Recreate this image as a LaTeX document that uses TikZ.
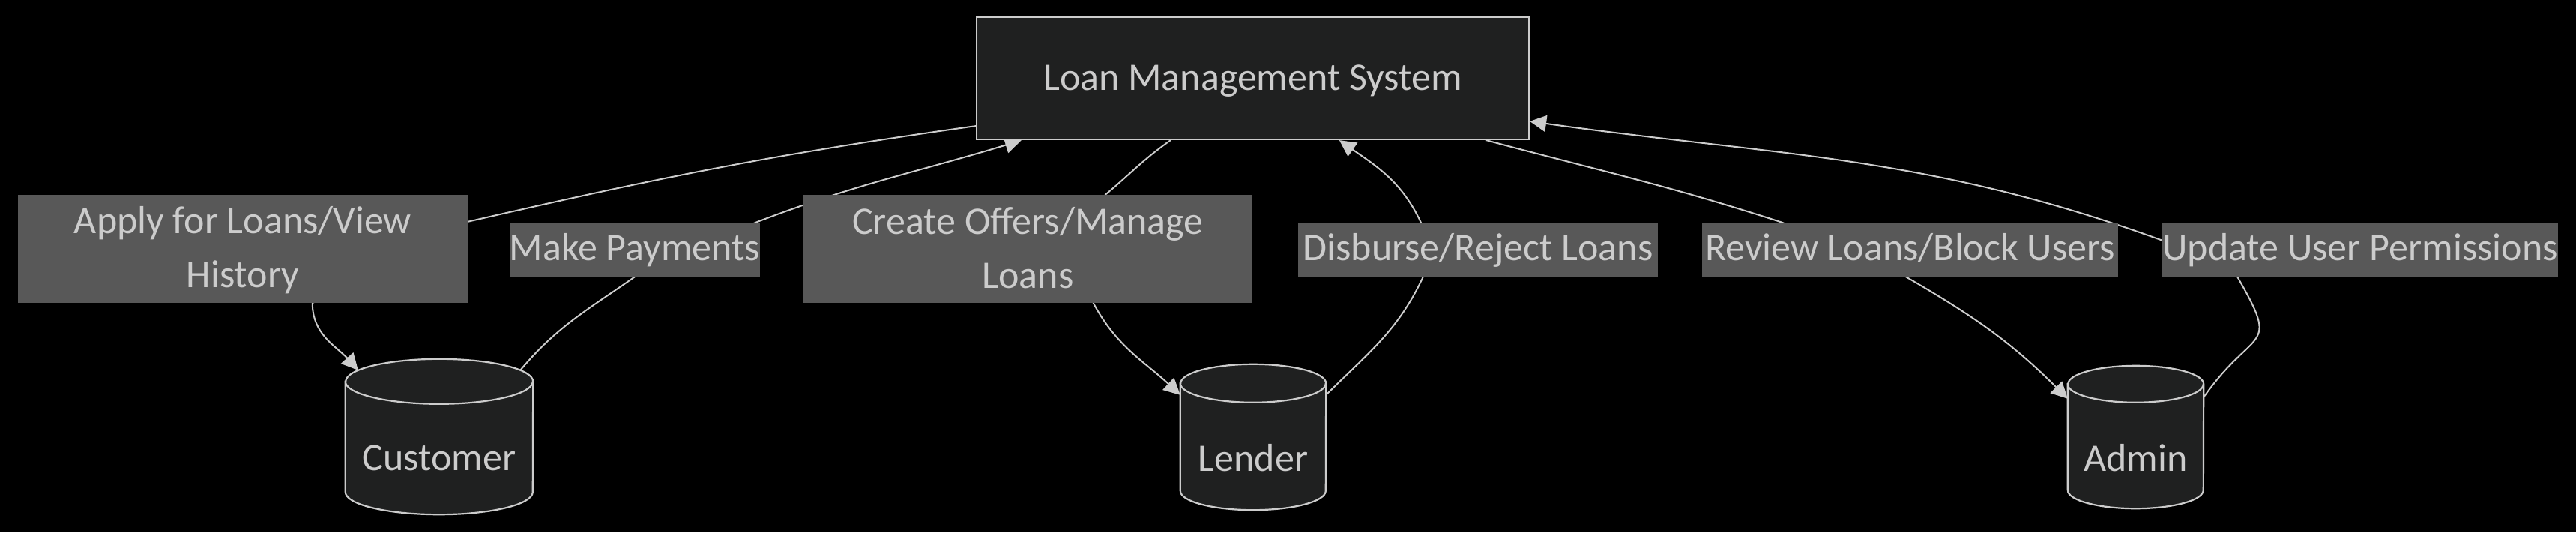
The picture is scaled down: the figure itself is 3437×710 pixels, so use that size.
\documentclass[tikz,border=0pt]{standalone}
\usepackage{fontspec}
\setmainfont{Carlito}
\usetikzlibrary{arrows.meta,calc}
\pgfdeclarelayer{bglayer}
\pgfdeclarelayer{edgelayer}
\pgfdeclarelayer{shapelayer}
\pgfsetlayers{bglayer,edgelayer,shapelayer,main}
\definecolor{nodefill}{HTML}{1F2020}
\definecolor{linegray}{HTML}{CCCCCC}
\definecolor{labelfill}{HTML}{585858}
\definecolor{textgray}{HTML}{CCCCCC}
\tikzset{
  bigfont/.style={font=\fontsize{52}{72}\selectfont},
  sysbox/.style={draw=linegray, line width=2.2pt, fill=nodefill, text=textgray, bigfont,
    inner sep=0pt, minimum width=737pt, minimum height=163pt, text height=35pt, text depth=3pt},
  dbnode/.style={draw=none, inner sep=0pt, text=textgray, bigfont, text height=90pt, text depth=0pt},
  elabel/.style={fill=labelfill, text=textgray, bigfont, inner sep=0pt, minimum height=72pt},
  elabelone/.style={elabel, text height=35pt, text depth=7pt},
  elabeltwo/.style={elabel, align=center, minimum height=144pt},
  edge/.style={draw=linegray, line width=2pt},
  arrowed/.style={edge, -{Triangle[length=22pt,width=22pt]}},
  cylline/.style={draw=linegray, line width=2.2pt, fill=nodefill},
}
\newcommand\drawcyl[3]{%
  \path[cylline] ([yshift=-#3pt]#1.north west) -- ([yshift=#3pt]#1.south west)
     arc[start angle=180,end angle=360,x radius=#2pt,y radius=#3pt]
     -- ([yshift=-#3pt]#1.north east)
     arc[start angle=0,end angle=180,x radius=#2pt,y radius=#3pt] -- cycle;
  \draw[cylline,fill=none] ([yshift=-#3pt]#1.north west)
     arc[start angle=180,end angle=360,x radius=#2pt,y radius=#3pt];
}
\begin{document}
\begin{tikzpicture}[x=1pt,y=1pt]
\begin{pgfonlayer}{bglayer}
\fill[black] (0,0) rectangle (3437,-710);
\end{pgfonlayer}
\useasboundingbox (0,0) rectangle (3437,-710);

% main nodes
\node[sysbox] (lms) at (1671.5,-104.5) {Loan Management System};
\node[dbnode, minimum width=250pt, minimum height=207pt, text height=89pt] (cust) at (586,-582.5) {Customer};
\node[dbnode, minimum width=194pt, minimum height=194pt] (lender) at (1672,-583) {Lender};
\node[dbnode, minimum width=181pt, minimum height=190pt] (admin) at (2849.5,-583) {Admin};

\begin{pgfonlayer}{shapelayer}
\drawcyl{cust}{125}{30}
\drawcyl{lender}{97}{25.5}
\drawcyl{admin}{90.5}{24.5}
\end{pgfonlayer}

% edge labels
\node[elabeltwo, minimum width=600pt] (apply) at (324,-332)
  {\rule{0pt}{40pt}Apply for Loans/View\\History\rule[-8pt]{0pt}{8pt}};
\node[elabelone, minimum width=328pt] (pay) at (847,-333) {Make Payments};
\node[elabeltwo, minimum width=599pt] (create) at (1371.5,-332)
  {\rule{0pt}{40pt}Create Offers/Manage\\Loans\rule[-8pt]{0pt}{8pt}};
\node[elabelone, minimum width=480pt] (disb) at (1972,-333) {Disburse/Reject Loans};
\node[elabelone, minimum width=555pt] (review) at (2548.5,-333) {Review Loans/Block Users};
\node[elabelone, minimum width=524pt] (update) at (3149,-333) {Update User Permissions};

% connectors
\begin{pgfonlayer}{edgelayer}
\draw[arrowed] ([yshift=19pt]lms.south west) to[out=188,in=13] ([yshift=-36pt]apply.north east)
  -- ([xshift=393pt]apply.south west) to[out=270,in=132] ([xshift=17pt,yshift=-15pt]cust.north west);
\draw[arrowed] ([xshift=-17pt,yshift=-15pt]cust.north east) to[out=50,in=215] (pay.south)
  -- ([xshift=-6pt]pay.north east) to[out=21,in=197] ([xshift=61pt]lms.south west);
\draw[arrowed] ([xshift=260pt]lms.south west) to[out=215,in=40] ([xshift=403pt]create.north west)
  -- ([xshift=387pt]create.south west) to[out=-62,in=137] ([yshift=-41pt]lender.north west);
\draw[arrowed] ([yshift=-41pt]lender.north east) to[out=45,in=245] ([xshift=167pt]disb.south west)
  -- ([xshift=164pt]disb.north west) to[out=115,in=-35] ([xshift=485pt]lms.south west);
\draw[arrowed] ([xshift=681pt]lms.south west) to[out=-15,in=162] ([xshift=107pt]review.north west)
  -- ([xshift=272pt]review.south west) to[out=-30,in=135] ([yshift=-44pt]admin.north west);
\draw[arrowed] ([yshift=-42pt]admin.north east) to[out=55,in=-60,looseness=1.8] ([xshift=100pt]update.south west)
  -- ([yshift=-24pt]update.north west) to[out=160,in=-8] ([yshift=-140pt]lms.north east);
\end{pgfonlayer}
\end{tikzpicture}
\end{document}
